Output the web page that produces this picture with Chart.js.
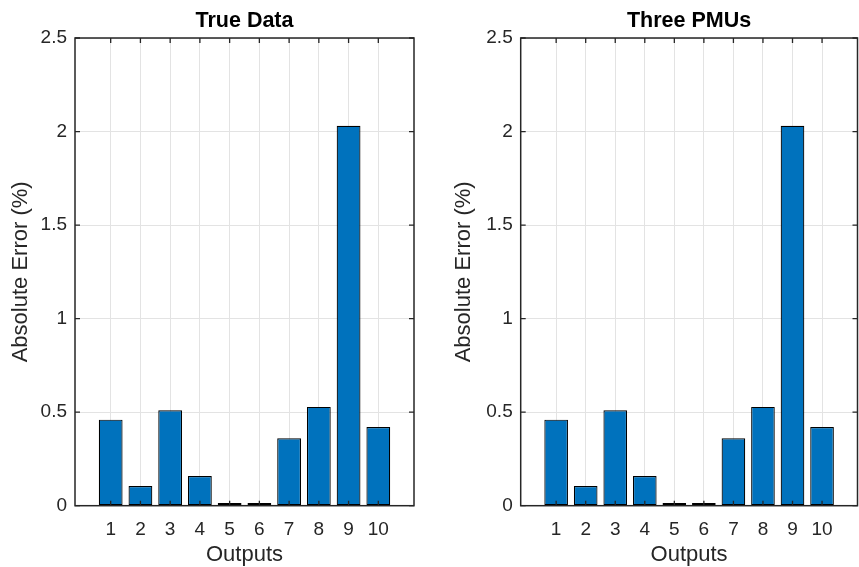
<!DOCTYPE html>
<html>
<head>
<meta charset="utf-8">
<script src="https://cdn.jsdelivr.net/npm/chart.js@4/dist/chart.umd.min.js"></script>
<style>
  html, body { margin: 0; padding: 0; background: #fff; }
  #wrap { position: relative; width: 859px; height: 567px; }
  .painel { position: absolute; top: 0; height: 567px; }
  #esq { left: 0; width: 430px; }
  #dir { left: 430px; width: 429px; }
</style>
</head>
<body>
<div id="wrap">
  <div class="painel" id="esq"><canvas id="chartTrue"></canvas></div>
  <div class="painel" id="dir"><canvas id="chartPmu"></canvas></div>
</div>
<script>
// dados
const outputs = [1, 2, 3, 4, 5, 6, 7, 8, 9, 10];
const trueData = [0.46, 0.105, 0.51, 0.159, 0.014, 0.014, 0.36, 0.528, 2.031, 0.421];
const threePmus = [0.46, 0.105, 0.51, 0.159, 0.014, 0.014, 0.36, 0.528, 2.031, 0.421];
const yTicks = [0, 0.5, 1, 1.5, 2, 2.5];

const FONTE = '"Liberation Sans", Arial, Helvetica, sans-serif';
const CINZA = '#262626';

// caixa do eixo, ticks para dentro e título (estilo MATLAB)
const caixaPlugin = {
  id: 'caixa',
  afterDraw(chart, args, opts) {
    const ctx = chart.ctx;
    const a = chart.chartArea;
    const xs = chart.scales.x, ys = chart.scales.y;
    ctx.save();
    ctx.strokeStyle = CINZA;
    ctx.lineWidth = 1.5;
    ctx.strokeRect(a.left, a.top, a.right - a.left, a.bottom - a.top);
    ctx.lineWidth = 1.3;
    ctx.beginPath();
    xs.ticks.forEach(t => {
      const px = xs.getPixelForValue(t.value);
      ctx.moveTo(px, a.bottom); ctx.lineTo(px, a.bottom - 5);
      ctx.moveTo(px, a.top); ctx.lineTo(px, a.top + 5);
    });
    ys.ticks.forEach(t => {
      const py = ys.getPixelForValue(t.value);
      ctx.moveTo(a.left, py); ctx.lineTo(a.left + 5, py);
      ctx.moveTo(a.right, py); ctx.lineTo(a.right - 5, py);
    });
    ctx.stroke();
    ctx.fillStyle = '#000';
    ctx.font = 'bold 21.5px ' + FONTE;
    ctx.textAlign = 'center';
    ctx.textBaseline = 'alphabetic';
    ctx.fillText(opts.texto, (a.left + a.right) / 2, 26.7);
    ctx.restore();
  }
};

function criarGrafico(id, titulo, valores, larguraY, padTituloY, padDireita) {
  const ctx = document.getElementById(id).getContext('2d');
  return new Chart(ctx, {
    type: 'bar',
    data: {
      datasets: [{
        data: outputs.map((o, i) => ({ x: o, y: valores[i] })),
        backgroundColor: '#0072BD',
        borderColor: '#000',
        borderWidth: 1.2,
        borderSkipped: false,
        barPercentage: 0.8,
        categoryPercentage: 1
      }]
    },
    options: {
      responsive: true,
      maintainAspectRatio: false,
      animation: false,
      layout: { padding: { top: 38, right: padDireita, bottom: 0, left: 0 } },
      plugins: {
        legend: { display: false },
        tooltip: { enabled: false },
        caixa: { texto: titulo }
      },
      scales: {
        x: {
          type: 'linear',
          offset: false,
          min: -0.2,
          max: 11.2,
          afterBuildTicks: s => { s.ticks = outputs.map(v => ({ value: v })); },
          afterFit: s => { s.height = 61.3; },
          ticks: { font: { family: FONTE, size: 19 }, color: CINZA, padding: 13, autoSkip: false, maxRotation: 0,
                   callback: v => String(v) },
          grid: { color: '#e3e3e3', drawTicks: false, offset: false },
          border: { display: false },
          title: { display: true, text: 'Outputs', color: CINZA, font: { family: FONTE, size: 22 }, padding: { top: 0, bottom: -1 } }
        },
        y: {
          min: 0,
          max: 2.5,
          afterBuildTicks: s => { s.ticks = yTicks.map(v => ({ value: v })); },
          afterFit: s => { s.width = larguraY; },
          ticks: { font: { family: FONTE, size: 19 }, color: CINZA, padding: 8, callback: v => String(v) },
          grid: { color: '#e3e3e3', drawTicks: false },
          border: { display: false },
          title: { display: true, text: 'Absolute Error (%)', color: CINZA, font: { family: FONTE, size: 22 }, padding: { top: padTituloY, bottom: 0 } }
        }
      }
    },
    plugins: [caixaPlugin]
  });
}

criarGrafico('chartTrue', 'True Data', trueData, 75, 8, 16);
criarGrafico('chartPmu', 'Three PMUs', threePmus, 90.7, 21, 1.5);
</script>
</body>
</html>
